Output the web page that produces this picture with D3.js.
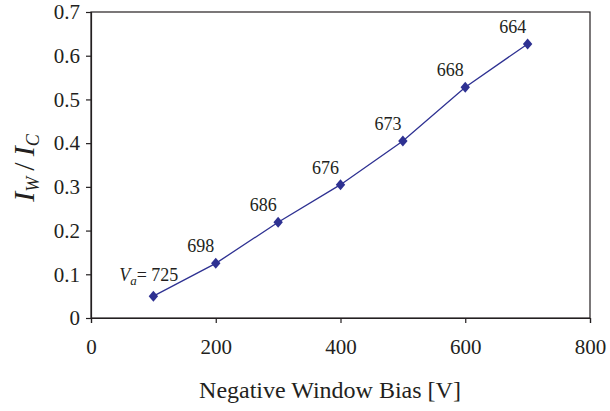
<!DOCTYPE html>
<html>
<head>
<meta charset="utf-8">
<script src="https://cdn.jsdelivr.net/npm/d3@7"></script>
<style>
  body { margin: 0; background: #fff; }
  svg { display: block; }
</style>
</head>
<body>
<svg id="chart" width="610" height="411"></svg>
<script>
// Window bias (V) and measured current ratio Iw/Ic, with anode voltage labels
const biasV = [100, 200, 300, 400, 500, 600, 700];
const ratio = [0.05, 0.125, 0.219, 0.305, 0.405, 0.528, 0.627];
const anodeV = [725, 698, 686, 676, 673, 668, 664];
const xTicks = [0, 200, 400, 600, 800];
const yTicks = [0, 0.1, 0.2, 0.3, 0.4, 0.5, 0.6, 0.7];

const FONT = "'Liberation Serif', Tinos, 'Times New Roman', Times, 'DejaVu Serif', serif";
const svg = d3.select("#chart");
const margin = { left: 91, right: 20, top: 12, bottom: 93 };
const W = 610, H = 411;
const x = d3.scaleLinear().domain([0, 800]).range([margin.left, W - margin.right]);
const y = d3.scaleLinear().domain([0, 0.7]).range([H - margin.bottom, margin.top]);
const ink = "#231f20";
const navy = "#2e3192";

// plot frame
svg.append("rect")
  .attr("x", x(0)).attr("y", y(0.7))
  .attr("width", x(800) - x(0)).attr("height", y(0) - y(0.7))
  .attr("fill", "none").attr("stroke", ink).attr("stroke-width", 1.2);

const xAxis = svg.append("g")
  .attr("transform", `translate(0,${y(0)})`)
  .call(d3.axisBottom(x).tickValues(xTicks).tickFormat(d3.format("d")).tickSize(5).tickPadding(16));
const yAxis = svg.append("g")
  .attr("transform", `translate(${x(0)},0)`)
  .call(d3.axisLeft(y).tickValues(yTicks).tickFormat(d => d === 0 ? "0" : d3.format(".1f")(d)).tickSize(5).tickPadding(6));

[xAxis, yAxis].forEach(g => {
  g.attr("font-size", 21);
  g.select(".domain").attr("stroke", ink).attr("stroke-width", 1.2);
  g.selectAll(".tick line").attr("stroke", ink).attr("stroke-width", 1.2);
  g.selectAll(".tick text").attr("fill", ink).style("font-family", FONT);
});

// axis titles
svg.append("text")
  .attr("x", 330).attr("y", 398)
  .attr("text-anchor", "middle").attr("font-size", 24)
  .style("font-family", FONT).attr("fill", ink)
  .text("Negative Window Bias [V]");

const yt = svg.append("text")
  .attr("transform", `translate(34,168) rotate(-90)`)
  .attr("text-anchor", "middle").attr("font-size", 30).attr("font-style", "italic")
  .style("font-family", FONT).attr("fill", ink);
yt.append("tspan").text("I");
yt.append("tspan").attr("font-size", 18).attr("dy", 5).text("W");
yt.append("tspan").attr("dy", -5).attr("font-style", "normal").text("\u2009/\u2009");
yt.append("tspan").text("I");
yt.append("tspan").attr("font-size", 18).attr("dy", 5).text("C");

// series line and markers
const pts = biasV.map((v, i) => ({ v, r: ratio[i], a: anodeV[i] }));
svg.append("path")
  .datum(pts)
  .attr("fill", "none").attr("stroke", navy).attr("stroke-width", 1.3)
  .attr("d", d3.line().x(d => x(d.v)).y(d => y(d.r)));

svg.selectAll("path.mk").data(pts).join("path")
  .attr("class", "mk")
  .attr("transform", d => `translate(${x(d.v)},${y(d.r)})`)
  .attr("d", "M0,-5.5L4.7,0L0,5.5L-4.7,0Z")
  .attr("fill", navy);

// anode voltage labels
svg.selectAll("text.lbl").data(pts.slice(1)).join("text")
  .attr("class", "lbl")
  .attr("x", d => x(d.v) - 15).attr("y", d => y(d.r) - 11)
  .attr("text-anchor", "middle").attr("font-size", 18)
  .style("font-family", FONT).attr("fill", ink)
  .text(d => d.a);

const first = svg.append("text")
  .attr("x", x(pts[0].v) + 25).attr("y", y(pts[0].r) - 15)
  .attr("text-anchor", "end").attr("font-size", 18)
  .style("font-family", FONT).attr("fill", ink);
first.append("tspan").attr("font-style", "italic").text("V");
first.append("tspan").attr("font-style", "italic").attr("font-size", 13).attr("dy", 4).text("a");
first.append("tspan").attr("dy", -4).text("= " + pts[0].a);
</script>
</body>
</html>
